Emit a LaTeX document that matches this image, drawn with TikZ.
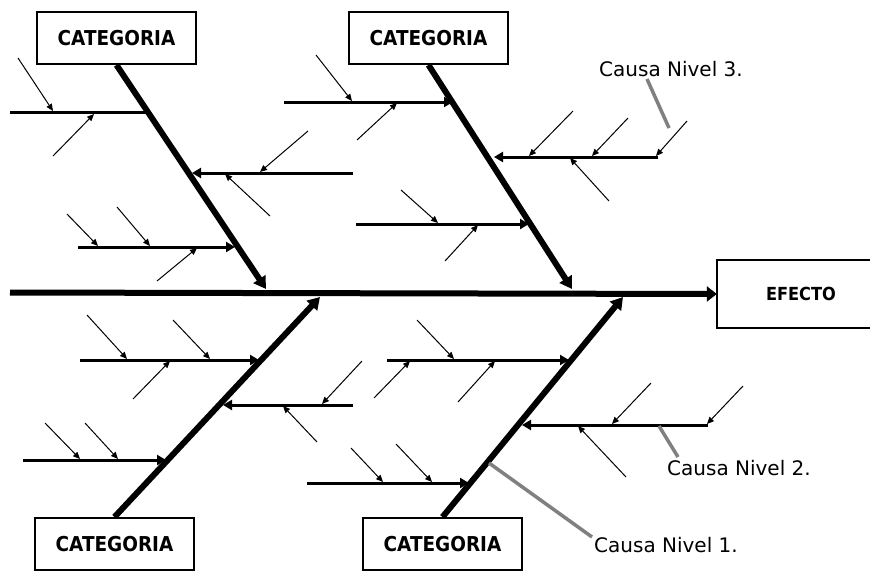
\documentclass[tikz,border=0pt]{standalone}
\usepackage{fontspec}
\setmainfont{DejaVu Sans}
\newfontfamily\boxfont[FakeStretch=0.9]{DejaVu Sans}
\usetikzlibrary{arrows.meta}
\newcommand\twigline[3]{\coordinate (#1s) at #2; \coordinate (#1e) at #3; \draw[twig] (#1s) -- (#1e);}
\newcommand\ribline[3]{\coordinate (#1s) at #2; \coordinate (#1e) at #3; \draw[rib] (#1s) -- (#1e);}
\begin{document}
\begin{tikzpicture}[x=1pt,y=-1pt,
  catbox/.style={draw, line width=2pt, minimum width=159pt, minimum height=52pt, inner sep=0pt, font=\boxfont\fontsize{20.5}{22}\selectfont\bfseries},
  efbox/.style={minimum width=168pt, minimum height=68pt, inner sep=0pt, font=\boxfont\fontsize{18}{20}\selectfont\bfseries},
  lbl/.style={anchor=west, inner sep=0pt, font=\fontsize{20}{22}\selectfont},
  bone/.style={line width=6pt, -{Triangle[length=12pt,width=14pt]}},
  spine/.style={line width=6pt, -{Triangle[length=10pt,width=15pt]}},
  rib/.style={line width=3pt, -{Triangle[length=9pt,width=10pt]}},
  ribplain/.style={line width=3pt},
  twig/.style={line width=1pt, -{Triangle[length=7pt,width=6pt]}},
  hatch/.style={line width=3.5pt, draw=black!50}]
\path[use as bounding box, fill=white] (0,0) rectangle (870,571);

% boxes
\node[catbox] (catTL) at (116.5,38) {CATEGORIA};
\node[catbox] (catTR) at (428.5,38) {CATEGORIA};
\node[catbox] (catBL) at (114.5,544) {CATEGORIA};
\node[catbox] (catBR) at (442.5,544) {CATEGORIA};
\node[efbox] (efecto) at (801,294) {EFECTO};
\draw[line width=2pt] (efecto.north east) -- (efecto.north west) -- (efecto.south west) -- (efecto.south east);

% spine
\coordinate (spS) at (10,292.5);
\draw[spine] (spS) -- (efecto.west);

% bones
\coordinate (tlE) at (266,289);
\coordinate (trE) at (572,289);
\coordinate (blE) at (320,297);
\coordinate (brE) at (623,297);
\draw[bone] (catTL.south) -- (tlE);
\draw[bone] (catTR.south) -- (trE);
\draw[bone] (catBL.north) -- (blE);
\draw[bone] (catBR.north) -- (brE);

% top-left ribs
\coordinate (tlr1s) at (10,112.5); \coordinate (tlr1e) at (146,112.5);
\draw[ribplain] (tlr1s) -- (tlr1e);
\ribline{tlr2}{(353,173)}{(192,173)}
\ribline{tlr3}{(78,247)}{(235,247)}
\twigline{tla}{(18,58)}{(53,111)}
\twigline{tlb}{(53,156)}{(94,114)}
\twigline{tlc}{(308,131)}{(260,172)}
\twigline{tld}{(270,216)}{(225,174)}
\twigline{tle}{(67,214)}{(98,246)}
\twigline{tlf}{(117,207)}{(150,246)}
\twigline{tlg}{(157,281)}{(197,248)}

% top-right ribs
\ribline{trr1}{(284,102)}{(453,102)}
\ribline{trr2}{(658,157)}{(494,157)}
\ribline{trr3}{(356,224)}{(529,224)}
\twigline{tra}{(316,55)}{(352,101)}
\twigline{trb}{(357,140)}{(397,103)}
\twigline{trc}{(573,111)}{(529,156)}
\twigline{trd}{(628,118)}{(592,156)}
\twigline{tre}{(687,121)}{(656,156)}
\twigline{trf}{(609,201)}{(570,158)}
\twigline{trg}{(401,190)}{(438,223)}
\twigline{trh}{(445,261)}{(478,225)}

% bottom-left ribs
\ribline{blr1}{(80,360)}{(259,360)}
\ribline{blr2}{(353,405)}{(223,405)}
\ribline{blr3}{(23,460)}{(166,460)}
\twigline{bla}{(87,315)}{(127,359)}
\twigline{blb}{(173,320)}{(210,359)}
\twigline{blc}{(133,399)}{(170,361)}
\twigline{bld}{(362,361)}{(322,404)}
\twigline{ble}{(317,442)}{(283,406)}
\twigline{blf}{(45,423)}{(80,459)}
\twigline{blg}{(85,423)}{(118,459)}

% bottom-right ribs
\ribline{brr1}{(387,360)}{(569,360)}
\ribline{brr2}{(708,425)}{(522,425)}
\ribline{brr3}{(307,483)}{(469,483)}
\twigline{bra}{(417,320)}{(454,359)}
\twigline{brb}{(374,398)}{(410,361)}
\twigline{brc}{(458,402)}{(495,361)}
\twigline{brd}{(651,383)}{(612,424)}
\twigline{bre}{(743,386)}{(707,424)}
\twigline{brf}{(626,477)}{(578,426)}
\twigline{brg}{(351,448)}{(383,482)}
\twigline{brh}{(396,444)}{(432,482)}

% labels
\node[lbl] (n3) at (599,69) {Causa Nivel 3.};
\node[lbl] (n2) at (667,468) {Causa Nivel 2.};
\node[lbl] (n1) at (594,545) {Causa Nivel 1.};
\coordinate (h3a) at (647,79); \coordinate (h3b) at (669,128);
\coordinate (h2a) at (659,426); \coordinate (h2b) at (678,457);
\coordinate (h1a) at (489,463); \coordinate (h1b) at (592,537);
\draw[hatch] (h3a) -- (h3b);
\draw[hatch] (h2a) -- (h2b);
\draw[hatch] (h1a) -- (h1b);
\end{tikzpicture}
\end{document}
